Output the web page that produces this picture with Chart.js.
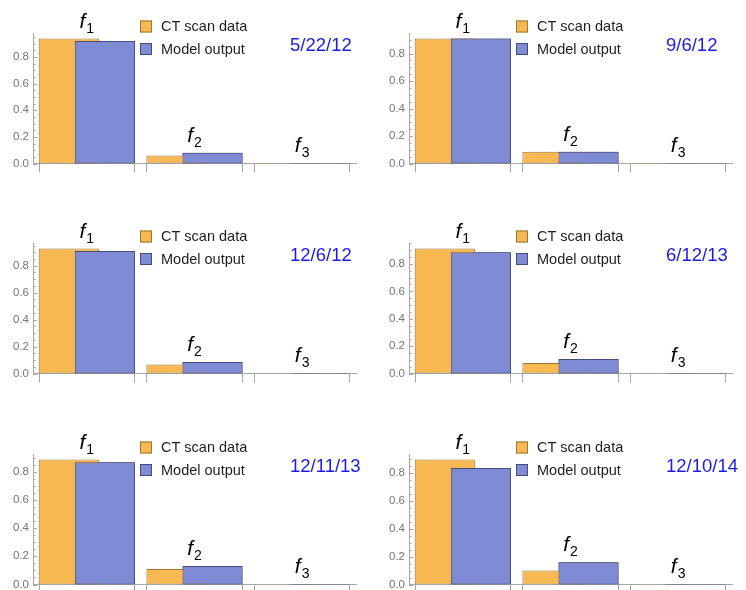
<!DOCTYPE html>
<html>
<head>
<meta charset="utf-8">
<script src="https://cdn.jsdelivr.net/npm/chart.js@4.4.1/dist/chart.umd.min.js"></script>
<style>
  html, body { margin: 0; padding: 0; background: #fff; overflow: hidden; width: 746px; height: 590px; }
  .panel { position: absolute; }
  canvas { display: block; }
</style>
</head>
<body>
<div class="panel" style="left:0;top:0"><canvas id="c0" width="373" height="180"></canvas></div>
<div class="panel" style="left:376px;top:0"><canvas id="c1" width="373" height="180"></canvas></div>
<div class="panel" style="left:0;top:210px"><canvas id="c2" width="373" height="180"></canvas></div>
<div class="panel" style="left:376px;top:210px"><canvas id="c3" width="373" height="180"></canvas></div>
<div class="panel" style="left:0;top:421px"><canvas id="c4" width="373" height="180"></canvas></div>
<div class="panel" style="left:376px;top:421px"><canvas id="c5" width="373" height="180"></canvas></div>
<script>
// === DATA ===
const categories  = ['1', '2', '3'];          // subscripts of f
const panelDates  = ['5/22/12', '9/6/12', '12/6/12', '6/12/13', '12/11/13', '12/10/14'];
const ctScanData  = [
    [0.937, 0.060, 0.003],
    [0.909, 0.085, 0.003],
    [0.927, 0.067, 0.003],
    [0.912, 0.076, 0.003],
    [0.885, 0.110, 0.003],
    [0.898, 0.100, 0.003],
];
const modelOutput = [
    [0.920, 0.080, 0.003],
    [0.909, 0.085, 0.003],
    [0.909, 0.085, 0.003],
    [0.885, 0.105, 0.003],
    [0.866, 0.131, 0.003],
    [0.838, 0.160, 0.003],
];
const yTickValues = [0, 0.2, 0.4, 0.6, 0.8];
const seriesNames = ['CT scan data', 'Model output'];

// === STYLE ===
const COLORS = {
    ct:        '#f9b952',
    ctEdge:    '#9a7634',
    model:     '#7f8bd4',
    modelEdge: '#464b7a',
    axis:      '#a8a8a8',
    tickText:  '#777777',
    text:      '#1e1e1e',
    date:      '#1a1aee',
};
const FONT = '"Liberation Sans", Arial, sans-serif';

const panelDecor = {
    id: 'panelDecor',
    afterDatasetsDraw(chart, args, opts) {
        const ctx = chart.ctx;
        const ctBars    = chart.getDatasetMeta(0).data;
        const modelBars = chart.getDatasetMeta(1).data;

        // model bars sit in front of the CT bars
        modelBars.forEach(el => el.draw(ctx));

        const { left, bottom } = chart.chartArea;
        const yScale = chart.scales.y;

        ctx.save();
        ctx.strokeStyle = COLORS.axis;
        ctx.lineWidth   = 1;

        // y ticks (major every 0.2, minor every 0.05), pointing inward
        for (let i = 0; i * 0.05 <= yScale.max + 1e-9; i++) {
            const py  = Math.round(yScale.getPixelForValue(i * 0.05)) + 0.5;
            const len = i % 4 === 0 ? 4 : 2.5;
            ctx.beginPath();
            ctx.moveTo(left, py);
            ctx.lineTo(left + len, py);
            ctx.stroke();
        }

        ctBars.forEach((el, i) => {
            const other = modelBars[i];
            const x0 = Math.round(el.x - el.width / 2) + 0.5;
            const x1 = Math.round(other.x + other.width / 2) - 0.5;
            [x0, x1].forEach(x => {
                ctx.beginPath();
                ctx.moveTo(x, bottom);
                ctx.lineTo(x, bottom + 9);
                ctx.stroke();
            });

            // f_i label above the group
            const cx   = (el.x + other.x) / 2;
            const base = Math.min(el.y, other.y) - 11;
            ctx.fillStyle = '#000';
            ctx.textBaseline = 'alphabetic';
            ctx.font = `italic 21px ${FONT}`;
            const wf = ctx.measureText('f').width;
            ctx.font = `14px ${FONT}`;
            const ws = ctx.measureText(categories[i]).width;
            const sx = cx - (wf + ws + 1) / 2;
            ctx.font = `italic 21px ${FONT}`;
            ctx.fillText('f', sx, base);
            ctx.font = `14px ${FONT}`;
            ctx.fillText(categories[i], sx + wf + 1, base + 5);
        });

        // legend
        const fills = [COLORS.ct, COLORS.model];
        const edges = [COLORS.ctEdge, COLORS.modelEdge];
        ctx.font = `14.5px ${FONT}`;
        ctx.textBaseline = 'middle';
        seriesNames.forEach((name, k) => {
            const by = 20.5 + k * 22.5;
            ctx.fillStyle = fills[k];
            ctx.fillRect(140, by, 12, 12);
            ctx.strokeStyle = edges[k];
            ctx.strokeRect(140.5, by + 0.5, 11, 11);
            ctx.fillStyle = COLORS.text;
            ctx.fillText(name, 161, by + 6.5);
        });

        // date
        ctx.font = `18.5px ${FONT}`;
        ctx.fillStyle = COLORS.date;
        ctx.fillText(opts.date, 290, 46);
        ctx.restore();
    },
};

function buildPanel(idx) {
    const yMax = Math.max(...ctScanData[idx], ...modelOutput[idx]) * 1.045;
    return new Chart(document.getElementById('c' + idx).getContext('2d'), {
        type: 'bar',
        data: {
            labels: categories.map(c => 'f' + c),
            datasets: [{
                label:           seriesNames[0],
                data:            ctScanData[idx],
                backgroundColor: COLORS.ct,
                borderColor:     COLORS.ctEdge,
                borderWidth:     1,
                borderSkipped:   false,
            }, {
                label:           seriesNames[1],
                data:            modelOutput[idx],
                backgroundColor: COLORS.model,
                borderColor:     COLORS.modelEdge,
                borderWidth:     1,
                borderSkipped:   false,
            }],
        },
        options: {
            responsive: false,
            animation:  false,
            categoryPercentage: 0.67,
            barPercentage:      1.667,
            layout: { padding: { top: 33, right: 17, bottom: 6.5, left: 0 } },
            plugins: {
                legend:  { display: false },
                tooltip: { enabled: false },
                panelDecor: { date: panelDates[idx] },
            },
            scales: {
                x: {
                    grid:   { display: false, drawTicks: false },
                    ticks:  { display: false },
                    border: { color: COLORS.axis },
                    afterFit: s => { s.height = 10; },
                },
                y: {
                    min: 0,
                    max: yMax,
                    grid:   { display: false, drawTicks: false },
                    border: { color: COLORS.axis },
                    ticks:  {
                        color:    COLORS.tickText,
                        font:     { family: FONT, size: 11.5 },
                        padding:  4,
                        callback: v => v.toFixed(1),
                    },
                    afterBuildTicks: s => { s.ticks = yTickValues.map(v => ({ value: v })); },
                    afterFit: s => { s.width = 33; },
                },
            },
        },
        plugins: [panelDecor],
    });
}

panelDates.forEach((_, i) => buildPanel(i));
</script>
</body>
</html>
